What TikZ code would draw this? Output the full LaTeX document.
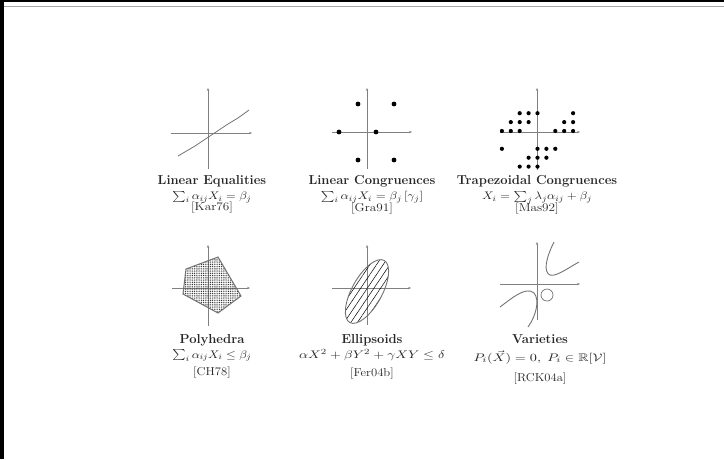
\documentclass[tikz,border=0pt]{standalone}
\usepackage{amssymb}
\usepackage{graphicx}
\usetikzlibrary{patterns,patterns.meta,arrows.meta}
\newcommand{\hstretch}[2]{\scalebox{#1}[1]{#2}}
\begin{document}
\begin{tikzpicture}[x=1pt,y=-1pt,
  axis/.style={draw=black!50, line width=0.5pt, -{Stealth[length=3pt,width=2.4pt]}},
  curve/.style={draw=black!55, line width=0.9pt},
  bigdot/.style={fill=black, draw=none},
  smalldot/.style={fill=black, draw=none},
  title/.style={font=\fontsize{13}{15}\selectfont\bfseries, text=black!85, inner sep=0pt, anchor=base},
  formula/.style={font=\fontsize{11}{13}\selectfont, text=black!85, inner sep=0pt, anchor=base},
  ref/.style={font=\fontsize{11.5}{13}\selectfont, text=black!85, inner sep=0pt, anchor=base}]
\useasboundingbox (0,0) rectangle (724,459);
\fill[white] (0,0) rectangle (724,459);
% frame edges
\fill[black] (0,0) rectangle (724,2);
\fill[black] (0,0) rectangle (4,459);
\draw[black!35, line width=1.5pt] (4,6.5) -- (724,6.5);

% ---------- Linear Equalities ----------
\draw[axis] (171,133) -- (252,133);
\draw[axis] (208,169) -- (208,88);
\draw[curve, line width=0.8pt] (178,156) -- (195,146) -- (210,136) -- (228,124) -- (238,118) -- (249,110);
\node[title]   (t1) at (212,184) {Linear Equalities};
\node[formula] (f1) at (212,199.5) {\hstretch{1.15}{$\sum_i \alpha_{ij} X_i = \beta_j$}};
\node[ref]     (r1) at (212,210.5) {\hstretch{1.15}{[Kar76]}};

% ---------- Linear Congruences ----------
\draw[axis] (332,132) -- (412,132);
\draw[axis] (367,169) -- (367,88);
\foreach \p in {(358,104),(394,104),(339,132),(376,132),(358,160),(394,160)}
  \fill[bigdot] \p circle (2.4);
\node[title]   (t2) at (372,184) {Linear Congruences};
\node[formula] (f2) at (372,199.5) {\hstretch{1.18}{$\sum_i \alpha_{ij} X_i = \beta_j\,[\gamma_j]$}};
\node[ref]     (r2) at (372,211) {\hstretch{1.15}{[Gra91]}};

% ---------- Trapezoidal Congruences ----------
\draw[axis] (500,132) -- (580,132);
\draw[axis] (537,170) -- (537,88);
\begin{scope}[shift={(537.5,131)}, x=8.9pt, y=-8.9pt]
\foreach \a/\b in {-2/2,-1/2,0/2,4/2,
                   -3/1,-2/1,-1/1,3/1,4/1,
                   -4/0,-3/0,-2/0,2/0,3/0,4/0,
                   -4/-2,0/-2,1/-2,2/-2,
                   -1/-3,0/-3,1/-3,
                   -2/-4,-1/-4,0/-4}
  \fill[smalldot] (\a,-\b) circle (2.1pt);
\end{scope}
\node[title]   (t3) at (537,184) {Trapezoidal Congruences};
\node[formula] (f3) at (537,199.5) {\hstretch{1.17}{$X_i = \sum_j \lambda_j \alpha_{ij} + \beta_j$}};
\node[ref]     (r3) at (537,211.5) {\hstretch{1.15}{[Mas92]}};

% ---------- Polyhedra ----------
\draw[axis] (172,288) -- (250,288);
\draw[axis] (208,326) -- (208,245);
\draw[draw=black!55, line width=1pt, pattern={Dots[distance=1.8pt, radius=0.55pt]}, pattern color=black!85]
  (186,269) -- (218,257) -- (241,296) -- (218,313) -- (183,294) -- cycle;
\node[title]   (t4) at (212,343.5) {Polyhedra};
\node[formula] (f4) at (212,358) {\hstretch{1.15}{$\sum_i \alpha_{ij} X_i \le \beta_j$}};
\node[ref]     (r4) at (212,375.5) {\hstretch{1.1}{[CH78]}};

% ---------- Ellipsoids ----------
\draw[axis] (332,288) -- (411,288);
\draw[axis] (367,325) -- (367,245);
\draw[draw=black!55, line width=0.9pt, pattern={Lines[angle=56, distance=5.5pt, line width=0.5pt]}, pattern color=black]
  (367,291.5) ellipse [x radius=35.5pt, y radius=15pt, rotate=61];
\node[title]   (t5) at (372,343.5) {Ellipsoids};
\node[formula] (f5) at (372,358) {\hstretch{1.28}{$\alpha X^2 + \beta Y^2 + \gamma XY \le \delta$}};
\node[ref]     (r5) at (372,376.5) {\hstretch{1.1}{[Fer04b]}};

% ---------- Varieties ----------
\draw[axis] (500,284) -- (580,284);
\draw[axis] (537,320) -- (537,242);
\draw[curve] (554,242) .. controls (546,258) and (543,272) .. (550,275)
             .. controls (556,277) and (568,268) .. (579,262);
\draw[curve] (500,307) .. controls (512,298) and (526,286) .. (534,293)
             .. controls (540,300) and (536,316) .. (528,327);
\draw[curve, line width=0.7pt] (547,295) circle (6);
\node[title]   (t6) at (540,343.5) {Varieties};
\node[formula] (f6) at (540,361) {\hstretch{1.3}{$P_i(\vec{X}) = 0,\; P_i \in \mathbb{R}[\mathcal{V}]$}};
\node[ref]     (r6) at (540,381) {\hstretch{1.1}{[RCK04a]}};
\end{tikzpicture}
\end{document}
